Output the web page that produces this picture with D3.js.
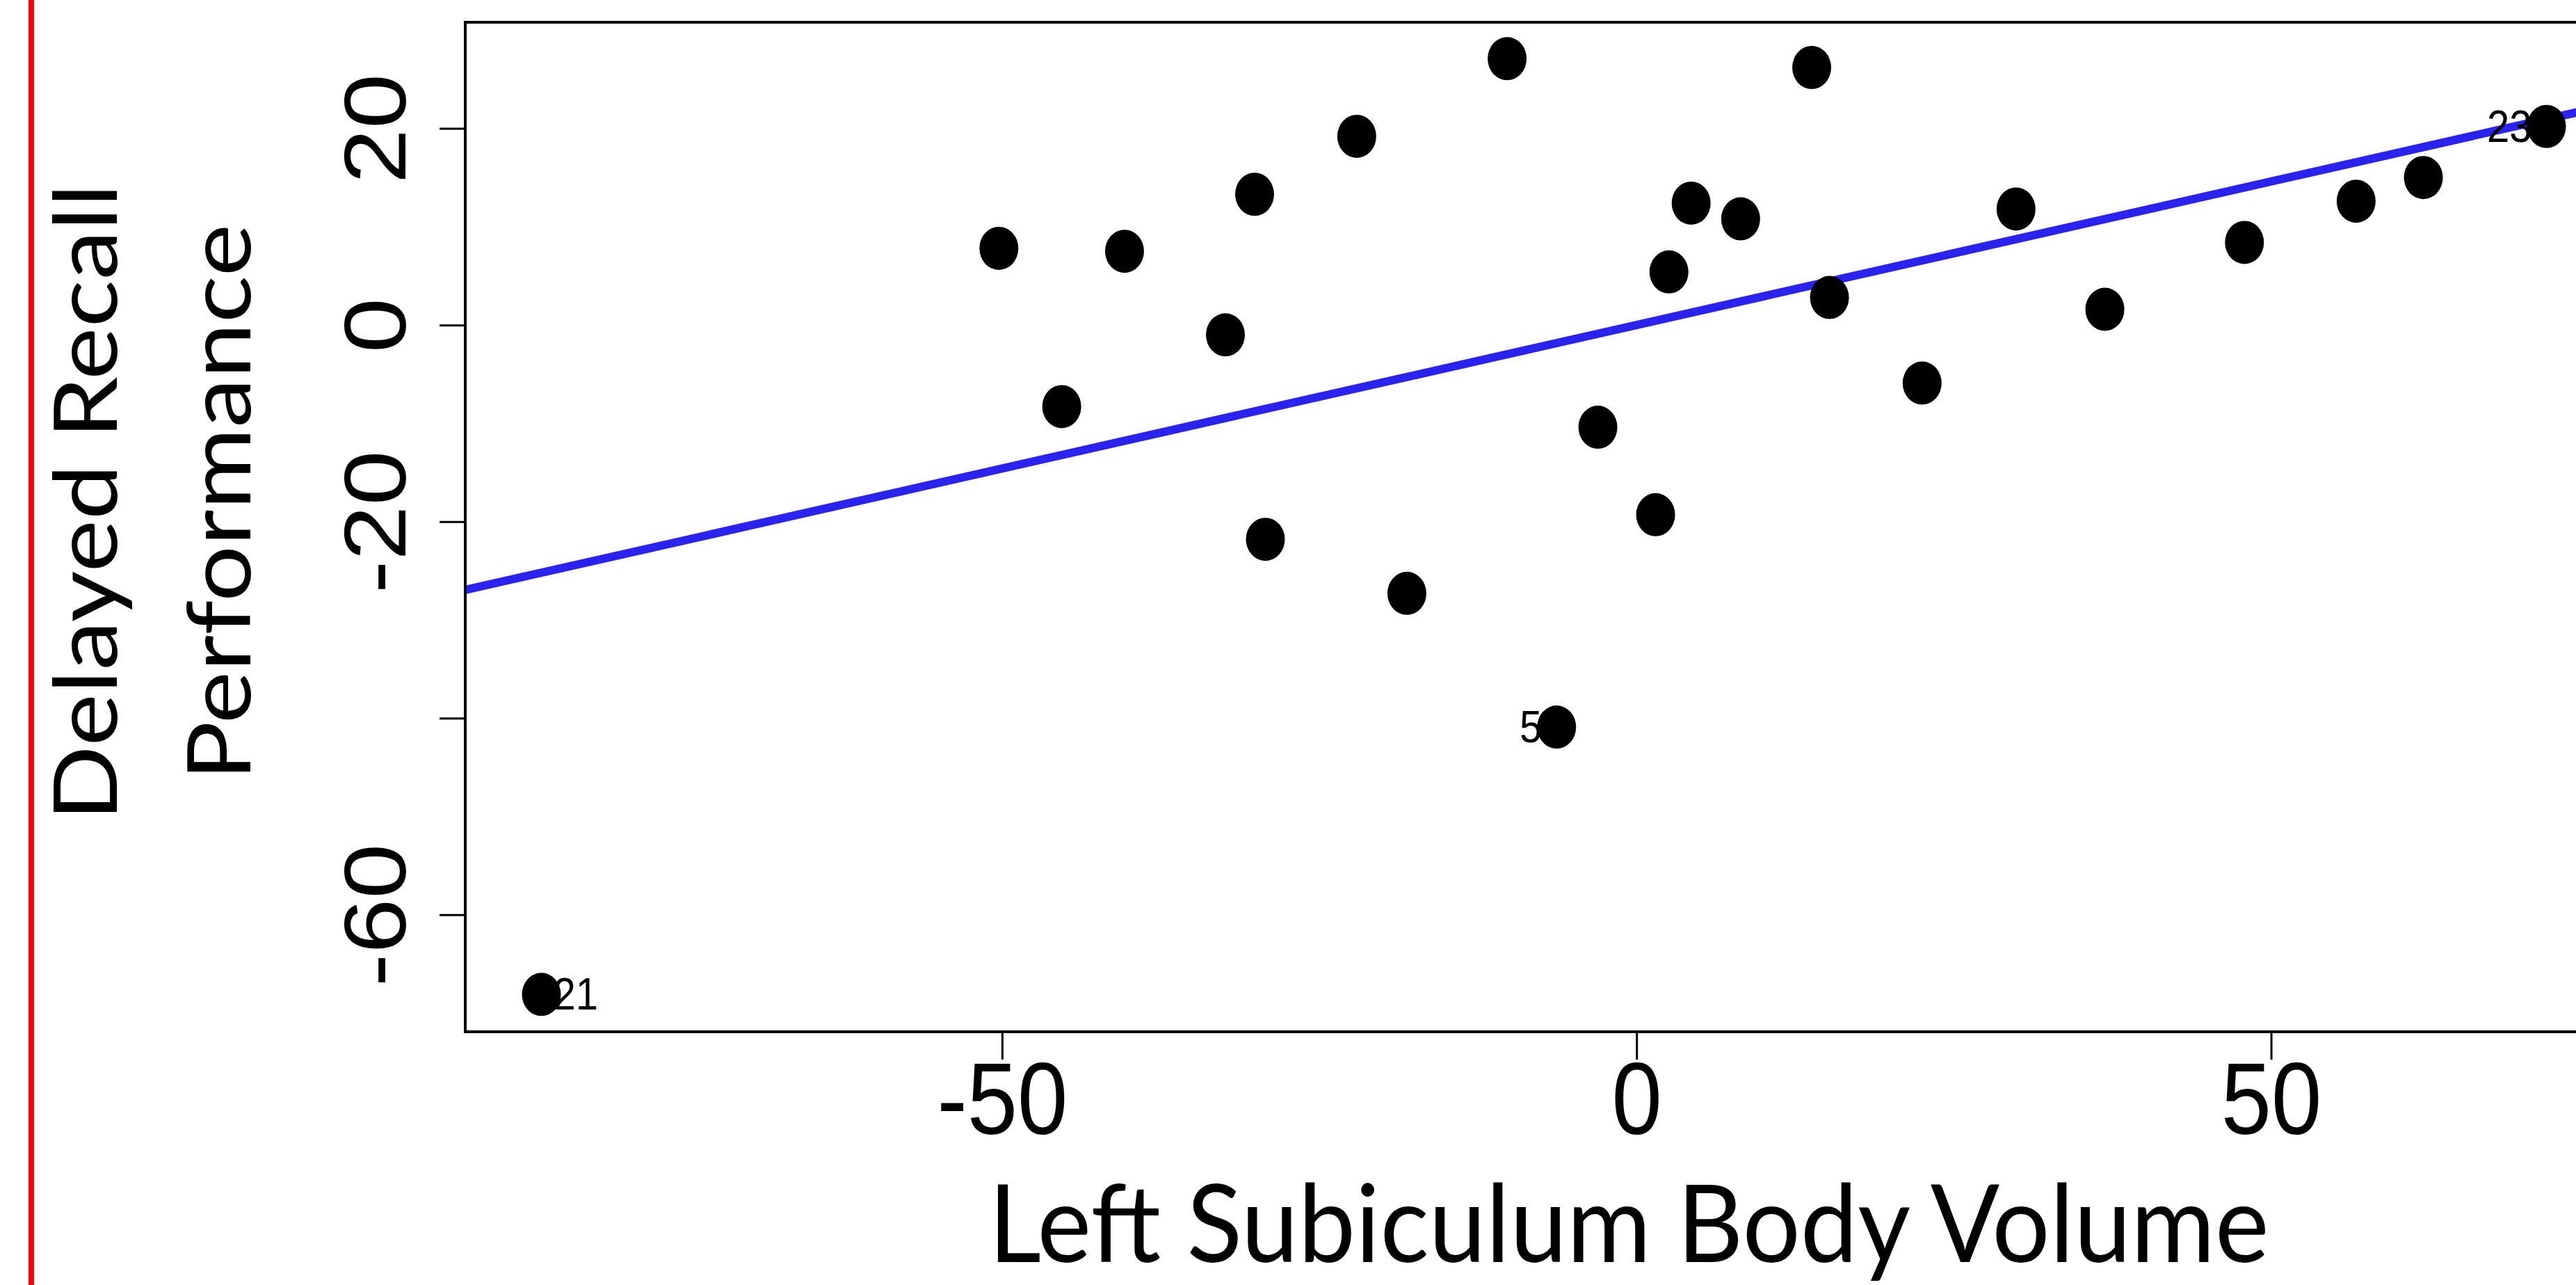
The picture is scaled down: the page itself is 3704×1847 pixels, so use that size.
<!DOCTYPE html>
<html>
<head>
<meta charset="utf-8">
<script src="https://cdn.jsdelivr.net/npm/d3@7"></script>
<style>
  body { margin: 0; background: #fff; }
  svg { display: block; }
</style>
</head>
<body>
<div id="chart"></div>
<script>
// values
var volume = [-86.3, -50.25, -45.3, -40.35, -32.4, -30.1, -29.25, -22.05, -18.1, -10.2, -6.3, -3.05,
              1.5, 2.55, 4.3, 8.2, 13.8, 15.2, 22.5, 29.9, 36.9, 47.9, 56.7, 62.0, 71.7];
var recall = [-68.1, 7.8, -8.3, 7.5, -1.0, 13.3, -21.8, 19.2, -27.3, 27.1, -40.9, -10.4,
              -19.3, 5.4, 12.4, 10.8, 26.2, 2.8, -5.9, 11.8, 1.6, 8.4, 12.6, 15.0, 20.2];
var pointLabels = ["21", "", "", "", "", "", "", "", "", "", "5", "",
                   "", "", "", "", "", "", "", "", "", "", "", "", "23"];
var xTicks = [-50, 0, 50];
var yTicks = [20, 0, -20, -40, -60];
var yTickLabels = ["20", "0", "-20", "", "-60"];
var fitIntercept = 0.0, fitSlope = 0.292;
var xTitle = "Left Subiculum Body Volume";
var yTitle = ["Delayed Recall", "Performance"];

var W = 3704, H = 1847;
var box = {left: 669, top: 32, bottom: 1483, right: 3813};
var k = 1.13; // the picture is a bit taller than wide

var svg = d3.select("#chart").append("svg")
    .attr("width", W)
    .attr("height", H);

// red rule on the left
svg.append("line")
  .attr("x1", 45).attr("x2", 45).attr("y1", 0).attr("y2", H)
  .attr("stroke", "#ff0000").attr("stroke-width", 8);

var x = d3.scaleLinear().domain([-92.3, 80]).range([box.left, box.right]);
var y = d3.scaleLinear().domain([-71.9, 30.8]).range([box.bottom, box.top]);

svg.append("clipPath").attr("id", "plotclip")
  .append("rect")
  .attr("x", box.left).attr("y", box.top)
  .attr("width", box.right - box.left).attr("height", box.bottom - box.top);

var tickFont = "'Liberation Sans', Arial, sans-serif";

// x axis
var xAxis = svg.append("g")
  .attr("transform", "translate(0," + box.bottom + ")")
  .call(d3.axisBottom(x).tickValues(xTicks).tickSize(40).tickFormat(d3.format("d")));
xAxis.select(".domain").remove();
xAxis.selectAll(".tick line").attr("stroke", "#000").attr("stroke-width", 3);
xAxis.selectAll(".tick text")
  .attr("y", 0).attr("dy", 0)
  .attr("transform", "translate(0,147) scale(1," + k + ")")
  .attr("text-anchor", "middle")
  .style("font-family", tickFont).style("font-size", "130px").attr("fill", "#000")
  .text(function(d) { return d3.format("d")(d).replace("−", "-"); });

// y axis
var yAxis = svg.append("g")
  .attr("transform", "translate(" + box.left + ",0)")
  .call(d3.axisLeft(y).tickValues(yTicks).tickSize(37)
    .tickFormat(function(d, i) { return yTickLabels[i]; }));
yAxis.select(".domain").remove();
yAxis.selectAll(".tick line").attr("stroke", "#000").attr("stroke-width", 3);
yAxis.selectAll(".tick text")
  .attr("x", 0).attr("dy", 0)
  .attr("transform", "translate(-86,0) scale(1," + k + ") rotate(-90)")
  .attr("text-anchor", "middle")
  .style("font-family", tickFont).style("font-size", "126px").attr("fill", "#000");

// regression line
svg.append("line")
  .attr("clip-path", "url(#plotclip)")
  .attr("x1", x(x.domain()[0])).attr("y1", y(fitIntercept + fitSlope * x.domain()[0]))
  .attr("x2", x(x.domain()[1])).attr("y2", y(fitIntercept + fitSlope * x.domain()[1]))
  .attr("stroke", "#2a22ee").attr("stroke-width", 12);

// points
var pts = d3.range(volume.length);
svg.append("g").selectAll("ellipse")
  .data(pts)
  .enter()
  .append("ellipse")
  .attr("cx", function(i) { return x(volume[i]); })
  .attr("cy", function(i) { return y(recall[i]); })
  .attr("rx", 28)
  .attr("ry", 31)
  .attr("fill", "#000");

// point labels (21 sits right of its dot, the rest left)
svg.append("g").selectAll("text")
  .data(pts.filter(function(i) { return pointLabels[i] !== ""; }))
  .enter()
  .append("text")
  .attr("transform", function(i) {
    var dx = pointLabels[i] === "21" ? 17 : -21;
    return "translate(" + (x(volume[i]) + dx) + "," + (y(recall[i]) + 22) + ") scale(1," + k + ")";
  })
  .attr("text-anchor", function(i) { return pointLabels[i] === "21" ? "start" : "end"; })
  .style("font-family", tickFont).style("font-size", "58px")
  .text(function(i) { return pointLabels[i]; });

// plot box
svg.append("rect")
  .attr("x", box.left).attr("y", box.top)
  .attr("width", box.right - box.left).attr("height", box.bottom - box.top)
  .attr("fill", "none").attr("stroke", "#000").attr("stroke-width", 4);

// titles, sized to the widths in the picture
var titleFont = "Lato, 'Open Sans', sans-serif";
function fit(sel, target) {
  sel.style("font-size", "100px");
  var len = sel.node().getComputedTextLength();
  sel.style("font-size", (100 * target / len) + "px");
}

var xt = svg.append("text")
  .attr("transform", "translate(2342,1814) scale(1,1.05)")
  .attr("text-anchor", "middle")
  .style("font-family", titleFont)
  .text(xTitle);
fit(xt, 1841);

var yt1 = svg.append("text")
  .attr("transform", "translate(168,722) scale(1," + k + ") rotate(-90)")
  .attr("text-anchor", "middle")
  .style("font-family", titleFont)
  .text(yTitle[0]);
fit(yt1, 916 / k);
svg.append("text")
  .attr("transform", "translate(360,722) scale(1," + k + ") rotate(-90)")
  .attr("text-anchor", "middle")
  .style("font-family", titleFont)
  .style("font-size", yt1.style("font-size"))
  .text(yTitle[1]);
</script>
</body>
</html>
